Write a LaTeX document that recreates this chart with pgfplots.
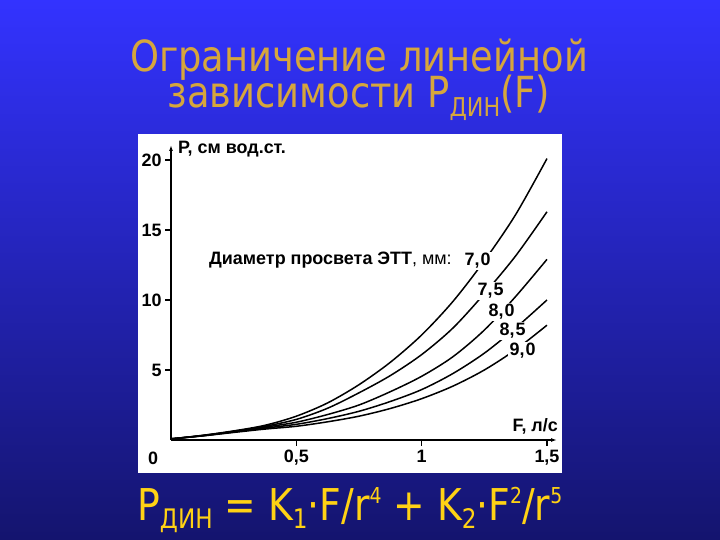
\documentclass[border=0pt]{standalone}
\usepackage{fontspec}
\setmainfont{Liberation Sans}
\newfontfamily\tahoma{DejaVu Sans}
\usepackage{graphicx}
\usepackage{pgfplots}
\pgfplotsset{compat=1.18}
\usepackage{pgfplotstable}
\usetikzlibrary{arrows.meta}

\definecolor{bgtop}{RGB}{51,51,255}
\definecolor{bgmid}{RGB}{38,38,205}
\definecolor{bgbot}{RGB}{20,20,110}
\definecolor{titlecol}{RGB}{214,166,60}
\definecolor{formcol}{RGB}{255,210,20}

% P (cm H2O) vs F (l/s) for ETT inner diameters 7.0 ... 9.0 mm
\pgfplotstableread{
F     d70   d75   d80   d85   d90
0     0.08  0.08  0.08  0.08  0.08
0.125 0.33  0.32  0.31  0.30  0.29
0.25  0.65  0.62  0.60  0.57  0.54
0.375 1.05  0.98  0.92  0.85  0.78
0.5   1.70  1.47  1.27  1.12  0.98
0.625 2.65  2.27  1.82  1.53  1.30
0.75  3.95  3.37  2.50  2.05  1.70
0.875 5.55  4.60  3.45  2.75  2.25
1.0   7.50  6.10  4.55  3.60  2.95
1.125 9.90  8.00  5.95  4.75  3.85
1.25  12.8  10.45 7.85  6.20  5.00
1.375 16.1  13.15 10.25 8.00  6.45
1.5   20.1  16.3  12.9  10.0  8.2
}\pdata

\newcommand{\lbl}{\bfseries\fontsize{18}{18}\selectfont}
\newcommand{\xs}{\vphantom{0,}}
\tikzset{curvelbl/.style={anchor=base west, fill=white, inner sep=1.5bp}}

\begin{document}
\begin{tikzpicture}
\useasboundingbox (0,0) rectangle (720bp,540bp);
\shade[top color=bgtop, middle color=bgmid, bottom color=bgbot] (0,0) rectangle (720bp,540bp);

% title
\node[anchor=base, inner sep=0, text=titlecol] at (359bp,468bp)
  {\scalebox{0.86}[1]{\tahoma\fontsize{43}{43}\selectfont Ограничение линейной}};
\node[anchor=base, inner sep=0, text=titlecol] at (359bp,432bp)
  {\scalebox{0.86}[1]{\tahoma\fontsize{43}{43}\selectfont зависимости Р\raisebox{-9bp}{\fontsize{26}{26}\selectfont ДИН}(F)}};

% white panel
\fill[white] (138bp,67bp) rectangle (562bp,406bp);

\begin{axis}[
    at={(171bp,100bp)}, anchor=south west,
    scale only axis,
    width=386bp, height=295bp,
    xmin=0, xmax=1.54, ymin=0, ymax=21.07,
    axis lines=left,
    axis line style={line width=1.6bp, -{Latex[length=6bp,width=4bp]}},
    tick align=outside,
    major tick length=6bp,
    tick style={line width=1.4bp, black},
    xtick={0.5,1,1.5}, xticklabels={{\xs 0,5},{\xs 1},{\xs 1,5}},
    ytick={5,10,15,20}, yticklabels={5,10,15,20},
    ticklabel style={font=\bfseries\fontsize{18}{18}\selectfont},
    clip=false,
]
\addplot[black, line width=1.5bp, smooth] table[x=F, y=d70] {\pdata};
\addplot[black, line width=1.5bp, smooth] table[x=F, y=d75] {\pdata};
\addplot[black, line width=1.5bp, smooth] table[x=F, y=d80] {\pdata};
\addplot[black, line width=1.5bp, smooth] table[x=F, y=d85] {\pdata};
\addplot[black, line width=1.5bp, smooth] table[x=F, y=d90] {\pdata};
\end{axis}

% axis texts
\node[anchor=base west, inner sep=0] at (178bp,386bp) {\lbl Р, см вод.ст.};
\node[anchor=base west, inner sep=0] at (209bp,275bp) {\lbl Диаметр просвета ЭТТ\mdseries, мм:};
\node[curvelbl] at (463bp,274bp) {\lbl 7,\kern1pt0};
\node[curvelbl] at (476bp,244bp) {\lbl 7,\kern1pt5};
\node[curvelbl] at (487bp,223bp) {\lbl 8,\kern1pt0};
\node[curvelbl] at (498bp,204bp) {\lbl 8,\kern1pt5};
\node[curvelbl] at (508bp,184bp) {\lbl 9,\kern1pt0};
\node[anchor=base east, inner sep=0] at (558bp,108bp) {\lbl F, л/с};
\node[anchor=base, inner sep=0] at (153bp,75bp) {\bfseries\fontsize{18}{18}\selectfont 0};

% formula
\node[anchor=base west, inner sep=0, text=formcol] at (137bp,20bp)
  {\scalebox{0.86}[1]{\tahoma\fontsize{44}{44}\selectfont
   Р\raisebox{-8bp}{\fontsize{27}{27}\selectfont ДИН} = K\raisebox{-8bp}{\fontsize{27}{27}\selectfont 1}·F/r\raisebox{17bp}{\fontsize{22}{22}\selectfont 4}
   + K\raisebox{-8bp}{\fontsize{27}{27}\selectfont 2}·F\raisebox{17bp}{\fontsize{22}{22}\selectfont 2}/r\raisebox{17bp}{\fontsize{22}{22}\selectfont 5}}};
\end{tikzpicture}
\end{document}
